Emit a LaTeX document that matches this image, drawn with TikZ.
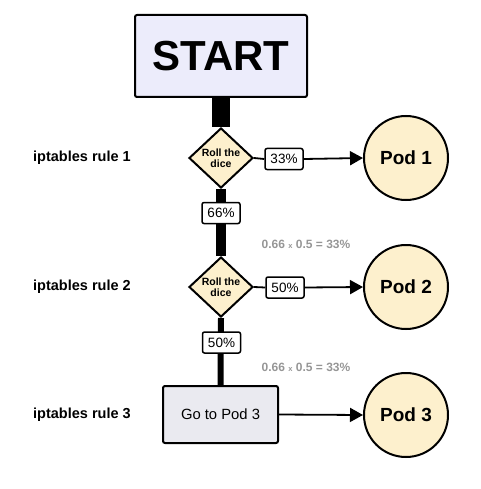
\documentclass[tikz,border=0pt]{standalone}
\usepackage{fontspec}
\setmainfont{Liberation Sans}
\usetikzlibrary{shapes.geometric,arrows.meta,backgrounds}
\definecolor{startfill}{RGB}{236,236,251}
\definecolor{podfill}{RGB}{253,240,205}
\definecolor{gofill}{RGB}{234,234,240}
\definecolor{calcgray}{RGB}{150,150,150}
\begin{document}
\begin{tikzpicture}[x=1pt,y=-1pt,
  startbox/.style={draw, line width=2pt, rounded corners=2pt, fill=startfill, minimum width=172pt, minimum height=82pt, inner sep=0pt, font=\fontsize{42}{42}\selectfont\bfseries},
  dicebox/.style={diamond, draw, line width=2pt, fill=podfill, minimum width=64pt, minimum height=60pt, inner sep=0pt, align=center, font=\fontsize{10.5}{11}\selectfont\bfseries},
  pct/.style={draw, line width=1.5pt, rounded corners=2pt, fill=white, minimum width=38pt, minimum height=21pt, inner sep=0pt, font=\fontsize{13.5}{13.5}\selectfont},
  pod/.style={circle, draw, line width=2pt, fill=podfill, minimum size=84pt, inner sep=0pt, font=\fontsize{19}{19}\selectfont\bfseries},
  gobox/.style={draw, line width=2pt, rounded corners=2pt, fill=gofill, minimum width=115pt, minimum height=57pt, inner sep=0pt, font=\fontsize{14.8}{15}\selectfont},
  rulelabel/.style={anchor=west, inner sep=0pt, font=\fontsize{14.5}{15}\selectfont\bfseries},
  calc/.style={text=calcgray, inner sep=0pt, font=\fontsize{12}{12}\selectfont\bfseries},
  conn/.style={line width=1.8pt},
  arr/.style={line width=1.8pt, -{Triangle[length=13pt,width=14pt]}}]
\useasboundingbox (0,0) rectangle (480,489);

\node[startbox] (start) at (221,56) {START};
\node[dicebox] (d1) at (221,158) {Roll the\\dice};
\node[dicebox] (d2) at (221,287) {Roll the\\dice};
\node[gobox] (go) at (220.5,414.5) {Go to Pod 3};

\node[pod] (p1) at (406,158) {Pod 1};
\node[pod] (p2) at (406,287) {Pod 2};
\node[pod] (p3) at (406,415) {Pod 3};

\node[rulelabel] (r1) at (33,158) {iptables rule 1};
\node[rulelabel] (r2) at (33,287) {iptables rule 2};
\node[rulelabel] (r3) at (33,415) {iptables rule 3};

\begin{pgfonlayer}{background}
\draw[line width=18pt] (start.south) -- (d1.north);
\draw[line width=10pt] (d1.south) -- (d2.north);
\draw[line width=6pt] (d2.south) -- (go.north);
\end{pgfonlayer}

\node[pct] (l33) at (284,159) {33\%};
\node[pct] (l50a) at (285,287.5) {50\%};
\node[pct] (l66) at (221,213) {66\%};
\node[pct] (l50b) at (221.5,342.5) {50\%};

\draw[conn] (d1.east) -- (l33.west);
\draw[arr] (l33.east) -- (p1.west);
\draw[conn] (d2.east) -- (l50a.west);
\draw[arr] (l50a.east) -- (p2.west);
\draw[arr] (go.east) -- (p3.west);

\node[calc] (c1) at (306,244) {0.66 {\fontsize{7.5}{7.5}\selectfont x} 0.5 = 33\%};
\node[calc] (c2) at (306,367) {0.66 {\fontsize{7.5}{7.5}\selectfont x} 0.5 = 33\%};
\end{tikzpicture}
\end{document}
